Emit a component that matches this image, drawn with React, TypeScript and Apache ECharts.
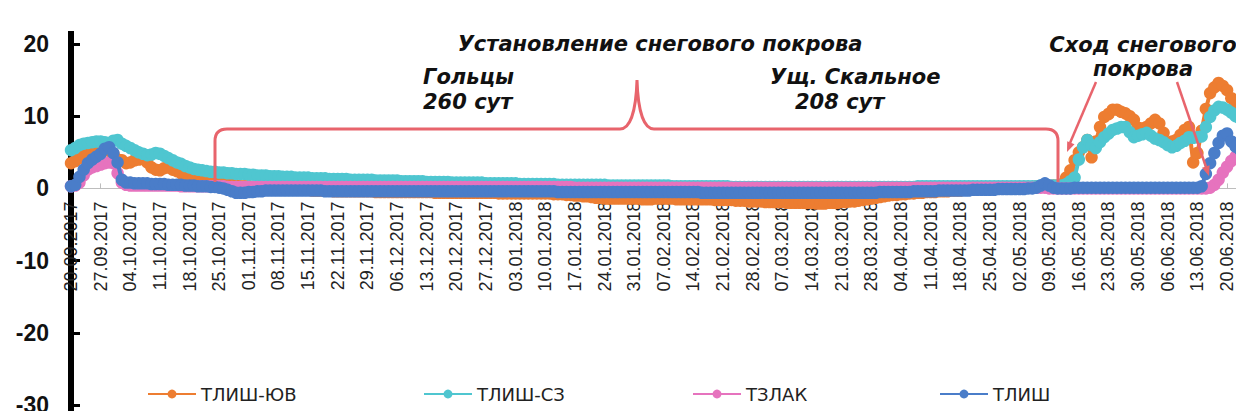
import React, { useEffect, useRef } from "react";
import * as echarts from "echarts";

// ---------- data ----------
const startDate = [2017, 8, 20]; // 20.09.2017 (month is 0-based)
const dayCount = 278; // daily categories up to 24.06.2018

function buildDates(): string[] {
  const out: string[] = [];
  for (let i = 0; i < dayCount; i++) {
    const d = new Date(Date.UTC(startDate[0], startDate[1], startDate[2] + i));
    const dd = String(d.getUTCDate()).padStart(2, "0");
    const mm = String(d.getUTCMonth() + 1).padStart(2, "0");
    out.push(`${dd}.${mm}.${d.getUTCFullYear()}`);
  }
  return out;
}
const categories = buildDates();

const seriesNames = ["ТЛИШ-ЮВ", "ТЛИШ-СЗ", "ТЗЛАК", "ТЛИШ"];

const tlishUV = [
  3.5, 3.8, 4.2, 4.6, 4.9, 5.0, 5.1,
  5.2, 5.3, 5.2, 4.8, 4.0, 3.9, 3.5,
  3.6, 3.9, 4.0, 4.2, 3.6, 2.9, 2.6,
  2.5, 2.8, 2.9, 2.6, 2.4, 2.1, 1.8,
  1.6, 1.4, 1.3, 1.1, 1.0, 0.9, 0.8,
  0.7, 0.6, 0.5, 0.5, 0.4, 0.3, 0.3,
  0.3, 0.2, 0.2, 0.1, 0.1, 0.1, 0.0,
  0.0, -0.1, -0.1, -0.1, -0.2, -0.2, -0.2,
  -0.2, -0.3, -0.3, -0.3, -0.3, -0.3, -0.4,
  -0.4, -0.4, -0.4, -0.4, -0.4, -0.4, -0.4,
  -0.4, -0.4, -0.5, -0.5, -0.5, -0.5, -0.5,
  -0.5, -0.5, -0.5, -0.5, -0.5, -0.5, -0.5,
  -0.5, -0.5, -0.6, -0.6, -0.6, -0.6, -0.6,
  -0.6, -0.6, -0.6, -0.6, -0.6, -0.6, -0.6,
  -0.6, -0.6, -0.6, -0.7, -0.7, -0.7, -0.7,
  -0.7, -0.7, -0.7, -0.7, -0.7, -0.7, -0.7,
  -0.7, -0.7, -0.8, -0.8, -0.8, -0.9, -0.9,
  -1.0, -1.0, -1.1, -1.1, -1.2, -1.3, -1.3,
  -1.4, -1.4, -1.4, -1.4, -1.4, -1.4, -1.4,
  -1.4, -1.4, -1.5, -1.5, -1.5, -1.4, -1.4,
  -1.4, -1.4, -1.4, -1.5, -1.5, -1.5, -1.5,
  -1.5, -1.5, -1.5, -1.5, -1.5, -1.6, -1.6,
  -1.6, -1.6, -1.6, -1.7, -1.7, -1.7, -1.8,
  -1.8, -1.8, -1.8, -1.9, -1.9, -1.9, -1.9,
  -1.9, -2.0, -2.0, -2.0, -2.0, -2.0, -2.0,
  -2.0, -2.1, -2.1, -2.1, -2.0, -2.0, -2.0,
  -1.9, -1.9, -1.8, -1.8, -1.7, -1.6, -1.5,
  -1.4, -1.3, -1.2, -1.1, -1.0, -0.9, -0.9,
  -0.8, -0.8, -0.7, -0.7, -0.6, -0.6, -0.5,
  -0.5, -0.5, -0.4, -0.4, -0.4, -0.3, -0.3,
  -0.3, -0.2, -0.2, -0.2, -0.1, -0.1, -0.1,
  0.0, 0.0, 0.0, 0.1, 0.1, 0.1, 0.1,
  0.2, 0.2, 0.2, 0.2, 0.3, 0.3, 0.3,
  0.3, 0.4, 0.4, 0.6, 1.5, 2.5, 3.9,
  5.0, 5.7, 6.7, 4.3, 6.5, 8.5, 9.9,
  10.3, 10.9, 10.9, 10.6, 10.4, 10.0, 9.5,
  8.4, 8.3, 8.5, 9.0, 9.5, 9.0, 7.7,
  6.3, 6.5, 6.7, 7.4, 8.1, 8.5, 3.6,
  4.9, 8.0, 11.0, 13.2, 14.0, 14.6, 14.2,
  13.6, 12.5, 11.8, 11.3, 11.0,
];

const tlishSZ = [
  5.3, 5.6, 6.0, 6.2, 6.3, 6.4, 6.5,
  6.5, 6.4, 6.3, 6.6, 6.7, 6.2, 5.9,
  5.6, 5.3, 5.0, 4.8, 4.6, 4.7, 4.9,
  4.8, 4.5, 4.2, 3.9, 3.6, 3.4, 3.1,
  2.9, 2.7, 2.6, 2.5, 2.4, 2.3, 2.3,
  2.2, 2.2, 2.1, 2.1, 2.0, 2.0, 2.0,
  1.9, 1.9, 1.8, 1.8, 1.8, 1.7, 1.7,
  1.7, 1.6, 1.6, 1.6, 1.5, 1.5, 1.5,
  1.5, 1.4, 1.4, 1.4, 1.4, 1.3, 1.3,
  1.3, 1.3, 1.3, 1.2, 1.2, 1.2, 1.2,
  1.2, 1.2, 1.1, 1.1, 1.1, 1.1, 1.1,
  1.1, 1.0, 1.0, 1.0, 1.0, 1.0, 1.0,
  0.9, 0.9, 0.9, 0.9, 0.9, 0.9, 0.8,
  0.8, 0.8, 0.8, 0.8, 0.8, 0.8, 0.8,
  0.7, 0.7, 0.7, 0.7, 0.7, 0.7, 0.7,
  0.7, 0.6, 0.6, 0.6, 0.6, 0.6, 0.6,
  0.6, 0.6, 0.6, 0.5, 0.5, 0.5, 0.5,
  0.5, 0.5, 0.5, 0.5, 0.5, 0.5, 0.5,
  0.5, 0.4, 0.4, 0.4, 0.4, 0.4, 0.4,
  0.4, 0.4, 0.4, 0.4, 0.4, 0.4, 0.4,
  0.4, 0.4, 0.3, 0.3, 0.3, 0.3, 0.3,
  0.3, 0.3, 0.3, 0.3, 0.3, 0.3, 0.3,
  0.3, 0.3, 0.2, 0.2, 0.2, 0.2, 0.2,
  0.2, 0.2, 0.2, 0.2, 0.2, 0.2, 0.2,
  0.2, 0.2, 0.2, 0.2, 0.2, 0.2, 0.2,
  0.2, 0.2, 0.2, 0.2, 0.2, 0.2, 0.2,
  0.2, 0.2, 0.2, 0.2, 0.2, 0.2, 0.2,
  0.2, 0.2, 0.2, 0.2, 0.2, 0.2, 0.2,
  0.2, 0.2, 0.2, 0.2, 0.3, 0.3, 0.3,
  0.3, 0.3, 0.3, 0.3, 0.3, 0.3, 0.3,
  0.3, 0.3, 0.3, 0.3, 0.3, 0.3, 0.3,
  0.3, 0.3, 0.3, 0.3, 0.3, 0.3, 0.3,
  0.3, 0.3, 0.3, 0.3, 0.3, 0.4, 0.4,
  0.4, 0.4, 0.4, 0.4, 0.6, 1.0, 1.5,
  4.0, 5.7, 6.7, 6.0, 5.6, 6.4, 7.1,
  7.6, 8.1, 8.3, 8.5, 8.5, 7.8, 7.1,
  7.3, 7.5, 7.7, 7.3, 6.9, 6.7, 6.4,
  6.0, 5.7, 5.9, 6.3, 6.6, 7.1, 7.0,
  7.1, 7.2, 8.5, 9.9, 10.8, 11.3, 11.2,
  10.9, 10.5, 10.0, 9.7, 9.5,
];

const tzlak = [
  0.3, 0.4, 0.8, 1.8, 2.6, 2.9, 3.1,
  3.3, 3.5, 3.6, 3.5, 2.1, 0.8, 0.5,
  0.4, 0.4, 0.4, 0.4, 0.4, 0.4, 0.4,
  0.4, 0.4, 0.4, 0.4, 0.4, 0.3, 0.3,
  0.3, 0.3, 0.3, 0.3, 0.3, 0.3, 0.3,
  0.3, 0.3, 0.2, 0.2, 0.2, 0.2, 0.2,
  0.2, 0.2, 0.2, 0.2, 0.2, 0.2, 0.2,
  0.2, 0.2, 0.2, 0.2, 0.2, 0.2, 0.2,
  0.2, 0.2, 0.2, 0.2, 0.2, 0.2, 0.2,
  0.2, 0.2, 0.2, 0.2, 0.2, 0.2, 0.2,
  0.2, 0.2, 0.2, 0.2, 0.2, 0.2, 0.2,
  0.2, 0.2, 0.2, 0.2, 0.2, 0.2, 0.2,
  0.2, 0.2, 0.2, 0.2, 0.2, 0.2, 0.2,
  0.2, 0.2, 0.2, 0.2, 0.2, 0.2, 0.2,
  0.2, 0.2, 0.2, 0.2, 0.2, 0.2, 0.2,
  0.2, 0.2, 0.2, 0.2, 0.2, 0.2, 0.2,
  0.2, 0.2, 0.2, 0.2, 0.2, 0.2, 0.2,
  0.1, 0.1, 0.1, 0.1, 0.1, 0.1, 0.1,
  0.1, 0.1, 0.1, 0.1, 0.1, 0.1, 0.1,
  0.1, 0.1, 0.1, 0.1, 0.1, 0.1, 0.1,
  0.1, 0.1, 0.1, 0.1, 0.1, 0.1, 0.1,
  0.1, 0.1, 0.1, 0.1, 0.1, 0.1, 0.1,
  0.1, 0.1, 0.1, 0.1, 0.1, 0.1, 0.1,
  0.1, 0.1, 0.1, 0.1, 0.1, 0.1, 0.1,
  0.1, 0.1, 0.1, 0.1, 0.1, 0.1, 0.1,
  0.1, 0.1, 0.1, 0.1, 0.1, 0.1, 0.1,
  0.1, 0.1, 0.1, 0.1, 0.1, 0.1, 0.1,
  0.1, 0.1, 0.1, 0.1, 0.1, 0.1, 0.1,
  0.1, 0.1, 0.1, 0.1, 0.1, 0.1, 0.1,
  0.1, 0.1, 0.1, 0.1, 0.1, 0.1, 0.1,
  0.1, 0.1, 0.1, 0.1, 0.1, 0.1, 0.1,
  0.1, 0.1, 0.1, 0.1, 0.1, 0.1, 0.1,
  0.1, 0.1, 0.1, 0.1, 0.1, 0.1, 0.1,
  0.0, 0.0, 0.0, 0.0, 0.0, 0.0, 0.0,
  0.0, 0.0, 0.0, 0.0, 0.0, 0.0, 0.0,
  0.0, 0.0, 0.0, 0.0, 0.0, 0.0, 0.0,
  0.0, 0.0, 0.0, 0.0, 0.0, 0.0, 0.0,
  0.0, 0.0, 0.0, 0.0, 0.0, 0.0, 0.0,
  0.0, 0.0, 0.0, 0.1, 0.5, 1.2, 2.2,
  3.0, 3.8, 4.4, 5.0, 5.4,
];

const tlish = [
  0.3, 0.5, 1.6, 2.6, 3.5, 4.0, 4.4,
  4.8, 5.5, 5.7, 4.9, 3.6, 1.2, 0.8,
  0.8, 0.7, 0.7, 0.7, 0.7, 0.6, 0.6,
  0.6, 0.6, 0.5, 0.5, 0.5, 0.5, 0.4,
  0.4, 0.4, 0.3, 0.3, 0.3, 0.2, 0.2,
  0.1, 0.0, -0.2, -0.4, -0.6, -0.6, -0.6,
  -0.5, -0.5, -0.4, -0.4, -0.3, -0.3, -0.3,
  -0.3, -0.3, -0.3, -0.3, -0.3, -0.3, -0.3,
  -0.3, -0.3, -0.3, -0.3, -0.4, -0.4, -0.4,
  -0.4, -0.4, -0.4, -0.4, -0.4, -0.4, -0.4,
  -0.4, -0.4, -0.4, -0.4, -0.4, -0.4, -0.4,
  -0.4, -0.4, -0.4, -0.4, -0.4, -0.4, -0.4,
  -0.4, -0.4, -0.4, -0.4, -0.4, -0.4, -0.4,
  -0.4, -0.4, -0.4, -0.4, -0.4, -0.4, -0.4,
  -0.4, -0.4, -0.4, -0.4, -0.4, -0.4, -0.4,
  -0.4, -0.4, -0.4, -0.4, -0.4, -0.4, -0.4,
  -0.4, -0.4, -0.4, -0.5, -0.5, -0.5, -0.5,
  -0.5, -0.5, -0.5, -0.5, -0.5, -0.5, -0.5,
  -0.5, -0.5, -0.5, -0.5, -0.5, -0.5, -0.5,
  -0.5, -0.5, -0.5, -0.5, -0.5, -0.5, -0.5,
  -0.5, -0.5, -0.5, -0.5, -0.5, -0.5, -0.5,
  -0.5, -0.5, -0.6, -0.6, -0.6, -0.6, -0.6,
  -0.6, -0.6, -0.6, -0.6, -0.6, -0.6, -0.6,
  -0.6, -0.6, -0.6, -0.6, -0.6, -0.6, -0.6,
  -0.6, -0.6, -0.6, -0.6, -0.6, -0.6, -0.6,
  -0.6, -0.6, -0.6, -0.6, -0.6, -0.6, -0.6,
  -0.6, -0.6, -0.6, -0.6, -0.6, -0.6, -0.6,
  -0.6, -0.6, -0.5, -0.5, -0.5, -0.5, -0.5,
  -0.5, -0.5, -0.5, -0.4, -0.4, -0.4, -0.4,
  -0.4, -0.4, -0.3, -0.3, -0.3, -0.3, -0.3,
  -0.3, -0.3, -0.3, -0.2, -0.2, -0.2, -0.2,
  -0.2, -0.2, -0.1, -0.1, -0.1, -0.1, -0.1,
  -0.1, -0.1, 0.0, 0.0, 0.1, 0.4, 0.7,
  0.4, 0.1, 0.0, 0.0, 0.0, 0.0, 0.1,
  0.1, 0.1, 0.1, 0.1, 0.1, 0.1, 0.1,
  0.1, 0.1, 0.1, 0.1, 0.1, 0.1, 0.1,
  0.1, 0.1, 0.1, 0.1, 0.1, 0.1, 0.1,
  0.1, 0.1, 0.1, 0.1, 0.1, 0.1, 0.1,
  0.1, 0.3, 2.0, 3.5, 4.9, 6.3, 7.3,
  7.6, 6.5, 5.8, 5.4, 5.3,
];

const seriesValues = [tlishUV, tlishSZ, tzlak, tlish];
const yMin = -30;
const yMax = 20;
const yStep = 10;

// ---------- styles / layout ----------
const seriesColors = ["#ED7D31", "#4FC6D0", "#E673BE", "#4A7DC9"];
const legendLefts = [147, 423, 692, 939];
const braceColor = "#E8646C";
const gridTop = 44;
const gridBottom = 14;
const chartHeight = 419;
// offset that moves the x axis (line, ticks, labels) up to the value 0
const xAxisOffset = -((chartHeight - gridBottom - gridTop) * (0 - yMin)) / (yMax - yMin);

const bracePath =
  "M215,182 L215,141 Q215,129 227,129 L620,129 C630,129 636,112 637,80 C638,112 644,129 654,129 L1046,129 Q1058,129 1058,141 L1058,182";
echarts.graphic.registerShape("brace", echarts.graphic.extendPath(bracePath, {}) as any);

const annFont = {
  fontFamily: "DejaVu Sans",
  fontWeight: "bold",
  fontStyle: "italic",
  fontSize: 21,
  fill: "#111",
};

export default function App() {
  const ref = useRef<HTMLDivElement>(null);
  useEffect(() => {
    if (!ref.current) return;
    const chart = echarts.init(ref.current, undefined, { renderer: "svg" });
    const option: any = {
      animation: false,
      backgroundColor: "#fff",
      textStyle: { fontFamily: "Liberation Sans, Arial, sans-serif" },
      grid: {
        left: 71,
        right: 0,
        top: gridTop,
        bottom: gridBottom,
        containLabel: false,
        outerBoundsMode: "none",
      },
      xAxis: {
        type: "category",
        data: categories,
        boundaryGap: false,
        position: "bottom",
        offset: xAxisOffset,
        axisLine: { onZero: false, lineStyle: { color: "#bdbdbd", width: 1 } },
        axisTick: { show: true, inside: true, length: 5, interval: 6, lineStyle: { color: "#bdbdbd" } },
        axisLabel: {
          interval: 6,
          rotate: 90,
          margin: 13,
          fontSize: 18,
          color: "#222",
          fontFamily: "Liberation Sans, Arial, sans-serif",
        },
        splitLine: { show: false },
      },
      yAxis: {
        type: "value",
        min: yMin,
        max: yMax,
        interval: yStep,
        axisLine: { show: true, lineStyle: { color: "#000", width: 6 } },
        axisTick: { show: true, inside: true, length: 9, lineStyle: { color: "#000", width: 3 } },
        axisLabel: {
          fontSize: 23,
          fontWeight: "bold",
          color: "#111",
          margin: 22,
          fontFamily: "Liberation Sans, Arial, sans-serif",
        },
        splitLine: { show: false },
      },
      legend: seriesNames.map((n, i) => ({
        data: [n],
        left: legendLefts[i],
        top: 385,
        padding: 0,
        itemWidth: 48,
        itemHeight: 11,
        itemGap: 0,
        textStyle: { fontSize: 18, fontFamily: "DejaVu Sans", color: "#222" },
      })),
      series: seriesNames.map((n, i) => ({
        type: "line",
        name: n,
        data: seriesValues[i],
        symbol: "circle",
        symbolSize: 12.5,
        showAllSymbol: true,
        itemStyle: { color: seriesColors[i] },
        lineStyle: { color: seriesColors[i], width: 4 },
        z: 2 + i,
      })),
      graphic: [
        { type: "rect", shape: { x: 68, y: 31, width: 6, height: 14 }, style: { fill: "#000" }, z: 10 },
        { type: "rect", shape: { x: 68, y: 404, width: 6, height: 15 }, style: { fill: "#000" }, z: 10 },
        {
          type: "brace",
          x: 0,
          y: 0,
          style: { fill: null, stroke: braceColor, lineWidth: 3 },
          z: 20,
        },
        { type: "line", shape: { x1: 1096, y1: 82, x2: 1070, y2: 143 }, style: { stroke: braceColor, lineWidth: 2.5 }, z: 20 },
        { type: "polygon", shape: { points: [[1067, 152], [1074.5, 144.3], [1067.2, 141.2]] }, style: { fill: braceColor }, z: 20 },
        { type: "line", shape: { x1: 1177, y1: 82, x2: 1206, y2: 167 }, style: { stroke: braceColor, lineWidth: 2.5 }, z: 20 },
        { type: "polygon", shape: { points: [[1209, 176], [1209.6, 165.2], [1202, 167.8]] }, style: { fill: braceColor }, z: 20 },
        { type: "text", x: 660, y: 44, style: { ...annFont, text: "Установление снегового покрова", align: "center", verticalAlign: "middle" }, z: 30 },
        { type: "text", x: 423, y: 77, style: { ...annFont, text: "Гольцы", align: "left", verticalAlign: "middle" }, z: 30 },
        { type: "text", x: 423, y: 102, style: { ...annFont, text: "260 сут", align: "left", verticalAlign: "middle" }, z: 30 },
        { type: "text", x: 770, y: 77, style: { ...annFont, text: "Ущ. Скальное", align: "left", verticalAlign: "middle" }, z: 30 },
        { type: "text", x: 795, y: 102, style: { ...annFont, text: "208 сут", align: "left", verticalAlign: "middle" }, z: 30 },
        { type: "text", x: 1143, y: 45, style: { ...annFont, text: "Сход снегового", align: "center", verticalAlign: "middle" }, z: 30 },
        { type: "text", x: 1143, y: 69, style: { ...annFont, text: "покрова", align: "center", verticalAlign: "middle" }, z: 30 },
      ],
    };
    chart.setOption(option);
    return () => chart.dispose();
  }, []);
  return <div ref={ref} style={{ width: 1244, height: 419, margin: "-8px" }} />;
}
